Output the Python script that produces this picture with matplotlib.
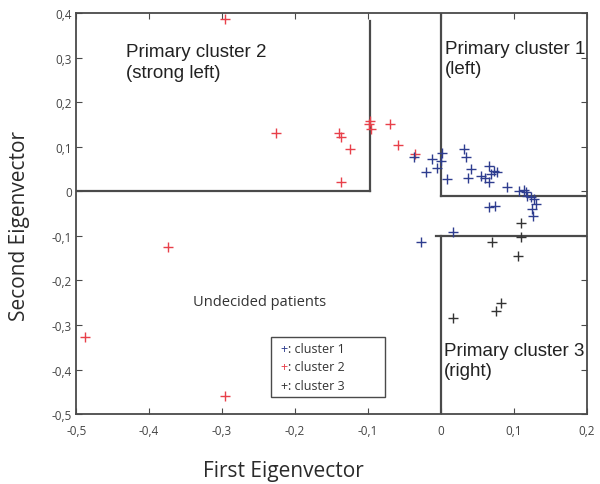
import matplotlib
matplotlib.use("Agg")
import matplotlib.pyplot as plt

# ---- data ----
c1_x = [-0.037, -0.021, -0.012, -0.005, 0.001, 0.0, 0.008, 0.032, 0.034, 0.041, 0.037,
        0.055, 0.066, 0.068, 0.073, 0.077, 0.060, 0.066, 0.090, 0.107, 0.114, 0.116,
        0.118, 0.123, 0.127, 0.130, 0.125, 0.066, 0.074, 0.126, 0.016, -0.027]
c1_y = [0.076, 0.043, 0.072, 0.052, 0.087, 0.067, 0.027, 0.094, 0.078, 0.049, 0.031,
        0.034, 0.056, 0.040, 0.045, 0.043, 0.031, 0.022, 0.009, 0.0, 0.004, -0.002,
        -0.011, -0.013, -0.018, -0.029, -0.040, -0.036, -0.034, -0.056, -0.092, -0.114]
c2_x = [-0.296, -0.226, -0.140, -0.137, -0.125, -0.137, -0.099, -0.096, -0.097,
        -0.070, -0.059, -0.036, -0.374, -0.488, -0.296]
c2_y = [0.386, 0.132, 0.132, 0.121, 0.096, 0.020, 0.150, 0.140, 0.157,
        0.150, 0.105, 0.083, -0.126, -0.327, -0.460]
c3_x = [0.110, 0.110, 0.070, 0.105, 0.082, 0.075, 0.016]
c3_y = [-0.070, -0.103, -0.114, -0.146, -0.251, -0.269, -0.285]

xticks = [-0.5, -0.4, -0.3, -0.2, -0.1, 0, 0.1, 0.2]
xtick_labels = ["-0,5", "-0,4", "-0,3", "-0,2", "-0,1", "0", "0,1", "0,2"]
yticks = [-0.5, -0.4, -0.3, -0.2, -0.1, 0, 0.1, 0.2, 0.3, 0.4]
ytick_labels = ["-0,5", "-0,4", "-0,3", "-0,2", "-0,1", "0", "0,1", "0,2", "0,3", "0,4"]

legend_labels = [": cluster 1", ": cluster 2", ": cluster 3"]

blue = "#2e3d8f"
red = "#e8404a"
black = "#333333"
linec = "#4a4a4a"

plt.rcParams['font.family'] = ['Open Sans', 'DejaVu Sans']

fig = plt.figure(figsize=(6.0, 4.85), dpi=100)
ax = fig.add_axes([0.127, 0.144, 0.851, 0.827])

ms = 7
mew = 1.0
ax.plot(c2_x, c2_y, '+', color=red, ms=ms, mew=mew, zorder=3)
ax.plot(c1_x, c1_y, '+', color=blue, ms=ms, mew=mew, zorder=3)
ax.plot(c3_x, c3_y, '+', color=black, ms=ms, mew=mew, zorder=3)

# region boundaries
lw = 1.6
ax.plot([-0.5, -0.097], [0, 0], color=linec, lw=lw, zorder=2)
ax.plot([-0.097, -0.097], [0, 0.382], color=linec, lw=lw, zorder=2)
ax.plot([0, 0], [-0.01, 0.4], color=linec, lw=lw, zorder=2)
ax.plot([0, 0.2], [-0.01, -0.01], color=linec, lw=lw, zorder=2)
ax.plot([-0.007, 0.2], [-0.1, -0.1], color=linec, lw=lw, zorder=2)
ax.plot([0, 0], [-0.1, -0.5], color=linec, lw=lw, zorder=2)

ax.set_xlim(-0.5, 0.2)
ax.set_ylim(-0.5, 0.4)
ax.set_xticks(xticks)
ax.set_xticklabels(xtick_labels)
ax.set_yticks(yticks)
ax.set_yticklabels(ytick_labels)
ax.tick_params(direction='in', top=True, right=True, labelsize=8.5, length=4,
               color=linec, labelcolor="#444444")
ax.tick_params(axis='x', pad=7)
ax.tick_params(axis='y', pad=3)
for s in ax.spines.values():
    s.set_color(linec)
    s.set_linewidth(1.3)

ax.set_xlabel("First Eigenvector", fontsize=15, color="#2a2a2a", va='center')
ax.xaxis.set_label_coords(0.405, -0.14)
ax.set_ylabel("Second Eigenvector", fontsize=15, color="#2a2a2a", va='center')
ax.yaxis.set_label_coords(-0.112, 0.471)

tkw = dict(fontsize=13.5, color="#222222", va='top', ha='left', linespacing=1.25,
           family=['Liberation Sans', 'DejaVu Sans'])
ax.text(-0.432, 0.332, "Primary cluster 2\n(strong left)", **tkw)
ax.text(0.005, 0.34, "Primary cluster 1\n(left)", **tkw)
ax.text(0.004, -0.338, "Primary cluster 3\n(right)", **tkw)
ax.text(-0.248, -0.247, "Undecided patients", fontsize=10.5, color="#333333",
        ha='center', va='center')

# legend box
ax.add_patch(plt.Rectangle((-0.233, -0.462), 0.156, 0.135, fill=False,
                           ec=linec, lw=1.0, zorder=2))
leg_colors = [blue, red, black]
for i, (lab, col) in enumerate(zip(legend_labels, leg_colors)):
    yy = -0.352 - i * 0.042
    ax.text(-0.220, yy, "+", color=col, fontsize=9, va='center', ha='left')
    ax.text(-0.209, yy, lab, color="#333333", fontsize=9, va='center', ha='left')

fig.savefig("out.png", dpi=100)
